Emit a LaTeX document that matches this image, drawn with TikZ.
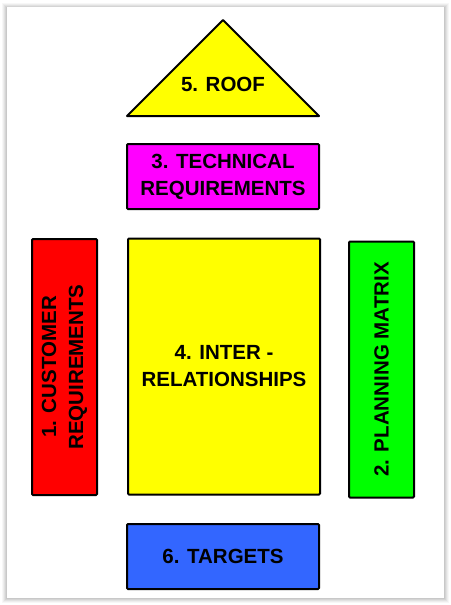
\documentclass[tikz,border=0pt]{standalone}
\usepackage{fontspec}
\setmainfont{Liberation Sans}
\usepackage{tikz}
\usetikzlibrary{positioning}
\definecolor{roofyellow}{RGB}{255,255,0}
\definecolor{techmagenta}{RGB}{255,0,255}
\definecolor{custred}{RGB}{255,0,0}
\definecolor{plangreen}{RGB}{0,255,0}
\definecolor{targetblue}{RGB}{51,102,255}
\tikzset{
    block/.style={draw=black, line width=2pt, rounded corners=1pt,
        align=center, inner sep=0pt,
        font=\fontsize{20.5}{27}\selectfont\bfseries},
    wideblock/.style={block, minimum width=192pt, minimum height=65pt},
    tallblock/.style={block, minimum width=65pt, minimum height=256pt},
    sidelabel/.style={align=center, rotate=90,
        font=\fontsize{20.5}{27}\selectfont\bfseries},
}

\begin{document}
\begin{tikzpicture}[x=1pt, y=-1pt]
	\useasboundingbox (0,0) rectangle (450,605);
	% frame with soft shadow
	\foreach \d/\o in {5/0.03, 4/0.04, 3/0.05, 2/0.06, 1/0.06}
		\fill[black, opacity=\o] (7-\d,7-\d+1) rectangle (444+\d,598+\d);
	\fill[white] (7,7) rectangle (444,598);
	% roof
	\draw[fill=roofyellow, line width=2pt, line join=round] (127,116) -- (223,20) -- (319,116) -- cycle;
	\node[font=\fontsize{20.5}{27}\selectfont\bfseries] (roof) at (223,84) {5. ROOF};
	% house
	\node[wideblock, fill=techmagenta] (tech) at (223,176.5) {3. TECHNICAL\\REQUIREMENTS};
	\node[tallblock, minimum width=192pt, fill=roofyellow] (inter) at (224,366.5) {4. INTER -\\RELATIONSHIPS};
	\node[tallblock, fill=custred] (cust) at (64.5,367) {};
	\node[sidelabel] (custtext) at (cust.center) {1. CUSTOMER\\REQUIREMENTS};
	\node[tallblock, fill=plangreen] (plan) at (381.5,369.5) {};
	\node[sidelabel] (plantext) at (plan.center) {2. PLANNING MATRIX};
	\node[wideblock, fill=targetblue] (targets) at (223,556.5) {6. TARGETS};
\end{tikzpicture}
\end{document}
